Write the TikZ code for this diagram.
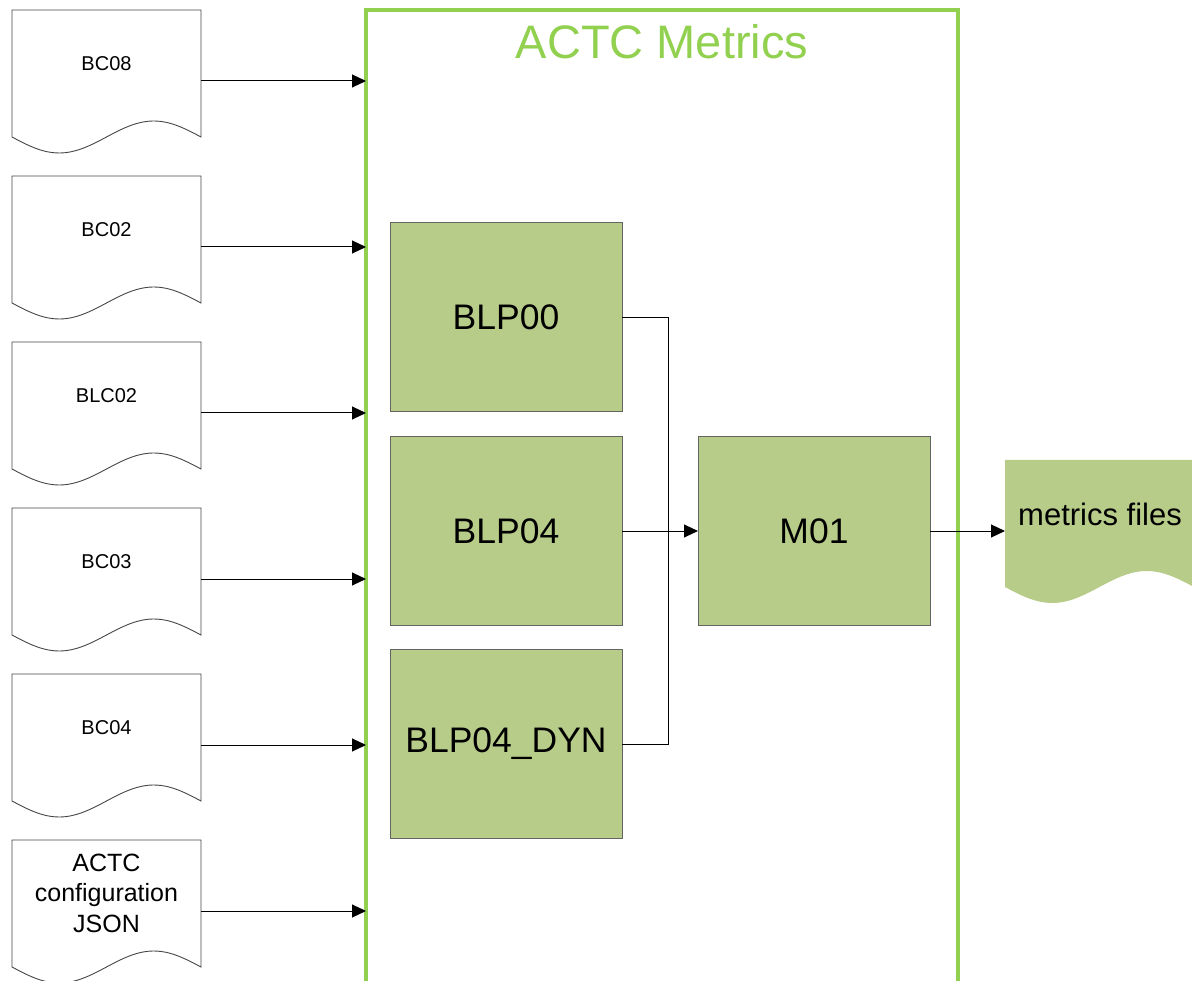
\documentclass[tikz,border=0pt]{standalone}
\usepackage{fontspec}
\setmainfont{Liberation Sans}
\usetikzlibrary{arrows.meta}

\definecolor{framegreen}{RGB}{146,208,80}
\definecolor{stepfill}{RGB}{184,204,138}
\definecolor{stepedge}{RGB}{100,100,100}
\definecolor{docedge}{RGB}{70,70,70}

\tikzset{
  docline/.style={draw=docedge, line width=0.9pt, fill=white},
  docarea/.style={rectangle, minimum width=189pt, minimum height=142pt, inner sep=0pt, outer sep=0pt},
  doctext/.style={font=\fontsize{20}{24}\selectfont, align=center, inner sep=0pt},
  stepbox/.style={rectangle, draw=stepedge, line width=1pt, fill=stepfill,
    minimum width=232pt, minimum height=189pt, inner sep=0pt, outer sep=0pt,
    font=\fontsize{35.5}{42}\selectfont},
  flow/.style={draw=black, line width=1pt, -{Triangle[length=14pt,width=13pt]}},
  plain/.style={draw=black, line width=1pt},
}

% Input document: wavy-bottomed page with its name and a node for connectors
\newcommand\srcdoc[4]{%
  \draw[docline] ({#2+189},{#3+127}) -- ({#2+189},#3) -- (#2,#3) -- (#2,{#3+127})
    -- plot[domain=0:1,samples=48] ({#2+189*\x},{#3+127+16*sin(360*\x)}) -- cycle;
  \node[docarea] (#1) at ({#2+94.5},{#3+71}) {};
  \node[doctext] (#1-label) at ({#2+94.5},{#3+54}) {#4};
}

\begin{document}
\begin{tikzpicture}[x=1pt,y=-1pt]
  \useasboundingbox (0,0) rectangle (1192,981);
  \clip (0,0) rectangle (1192,981);

  % ACTC Metrics frame
  \node[rectangle, draw=framegreen, line width=4pt, minimum width=592pt,
        minimum height=990pt, outer sep=0pt, inner sep=0pt] (frame) at (662,505.5) {};
  \node[text=framegreen, font=\fontsize{47}{56}\selectfont, inner sep=0pt] (title) at (662,42) {ACTC Metrics};

  % inputs
  \srcdoc{bc08}{12}{10}{BC08}
  \srcdoc{bc02}{12}{176}{BC02}
  \srcdoc{blc02}{12}{342}{BLC02}
  \srcdoc{bc03}{12}{508}{BC03}
  \srcdoc{bc04}{12}{674}{BC04}
  \draw[docline] ({12+189},{840+127}) -- ({12+189},840) -- (12,840) -- (12,{840+127})
    -- plot[domain=0:1,samples=48] ({12+189*\x},{840+127+16*sin(360*\x)}) -- cycle;
  \node[docarea] (cfg) at (106.5,911) {};
  \node[doctext, font=\fontsize{25}{30.5}\selectfont] (cfg-label) at (106.5,893) {ACTC\\configuration\\JSON};

  \foreach \d in {bc08,bc02,blc02,bc03,bc04,cfg}
    \draw[flow] (\d.east) -- (frame.west |- \d.east);

  % processing steps
  \node[stepbox] (blp00) at (506,317.5) {BLP00};
  \node[stepbox] (blp04) at (506,531) {BLP04};
  \node[stepbox] (blp04dyn) at (506,744) {BLP04\_DYN};
  \node[stepbox] (m01) at (814,531) {M01};

  \coordinate (join) at (668,531);
  \draw[plain] (blp00.east) -| (join);
  \draw[plain] (blp04dyn.east) -| (join);
  \draw[flow] (blp04.east) -- (m01.west);

  % output
  \fill[stepfill] ({1005+189},{460+127}) -- ({1005+189},460) -- (1005,460) -- (1005,{460+127})
    -- plot[domain=0:1,samples=48] ({1005+189*\x},{460+127+16*sin(360*\x)}) -- cycle;
  \node[docarea] (metrics) at (1099.5,531) {};
  \node[font=\fontsize{31}{36}\selectfont, inner sep=0pt] (metrics-label) at (1100,514) {metrics files};
  \draw[flow] (m01.east) -- (metrics.west);
\end{tikzpicture}
\end{document}
